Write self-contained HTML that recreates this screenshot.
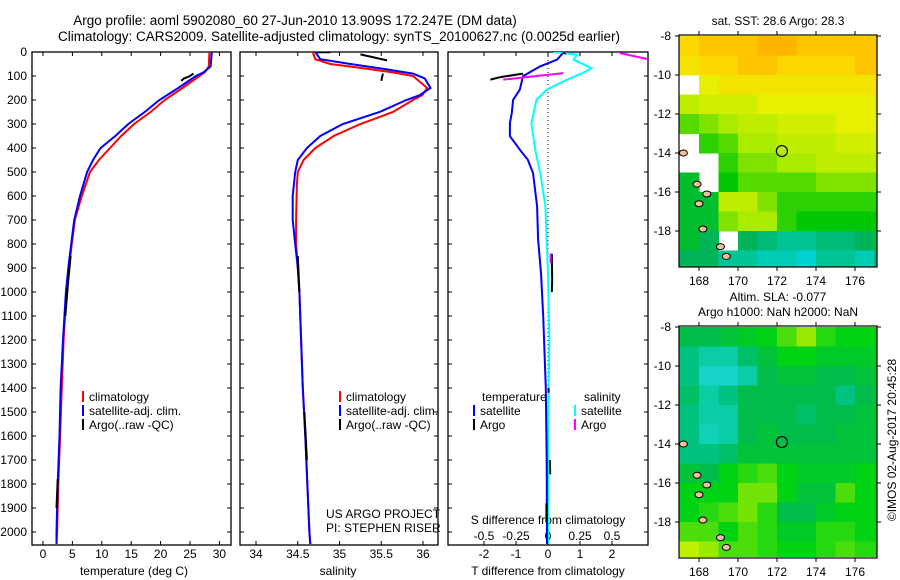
<!DOCTYPE html>
<html><head><meta charset="utf-8"><style>
html,body{margin:0;padding:0;background:#fff;}
svg{display:block;font-family:"Liberation Sans",sans-serif;}
text{fill:#000;}
</style></head><body>
<svg id="c" width="900" height="580" viewBox="0 0 900 580" xmlns="http://www.w3.org/2000/svg">
<text x="295" y="25" font-size="13.5" text-anchor="middle">Argo profile: aoml 5902080_60 27-Jun-2010 13.909S 172.247E (DM data)</text>
<text x="339" y="41" font-size="13.5" text-anchor="middle">Climatology: CARS2009. Satellite-adjusted climatology: synTS_20100627.nc (0.0025d earlier)</text>
<text x="778" y="25" font-size="12" text-anchor="middle">sat. SST: 28.6 Argo: 28.3</text>
<text x="778" y="301" font-size="12" text-anchor="middle">Altim. SLA: -0.077</text>
<text x="778" y="316" font-size="12" text-anchor="middle">Argo h1000: NaN h2000: NaN</text>
<text transform="translate(896,440) rotate(-90)" font-size="12" text-anchor="middle">©IMOS 02-Aug-2017 20:45:28</text>
<g id="g"></g>
</svg>
<script>
// ---------- data ----------
const depthTicks=[0,100,200,300,400,500,600,700,800,900,1000,1100,1200,1300,1400,1500,1600,1700,1800,1900,2000];
const tempTicks=[0,5,10,15,20,25,30];
const salTicks=[34,34.5,35,35.5,36];
const salTickLabels=["34","34.5","35","35.5","36"];
const tdTicks=[-2,-1,0,1,2];
const sdTicks=[-0.5,-0.25,0,0.25,0.5];
const sdTickLabels=["-0.5","-0.25","0","0.25","0.5"];
const lonTicks=[168,170,172,174,176];
const latTicks=[-8,-10,-12,-14,-16,-18];

const tClimDepth=[0,60,85,100,150,200,250,300,350,400,450,500,600,700,800,900,1000,1200,1400,1600,1800,2000,2050];
const tClim=[28.3,28.2,27.5,26.6,23.7,20.7,18.3,15.5,13.3,11.4,9.5,8,6.6,5.4,4.9,4.4,4.0,3.5,3.2,2.9,2.6,2.4,2.3];
const tSat=[28.7,28.5,27.3,26,23,19.8,17.3,14.5,12.3,9.8,8.5,7.5,6.3,5.3,4.8,4.3,3.9,3.4,3.0,2.8,2.5,2.3,2.3];
const tArgoDepth=[90,100,110,120,null,850,950,1100,null,1780,1900];
const tArgo=[25.6,25,24,23.5,null,4.7,4.3,3.8,null,2.5,2.3];

const sClimDepth=[0,30,50,70,85,100,150,180,200,250,300,350,400,450,500,550,700,800,900,1000,1400,1600,2000,2050];
const sClim=[34.68,34.71,34.89,35.33,35.64,35.88,36.05,35.99,35.88,35.64,35.25,34.93,34.71,34.57,34.5,34.49,34.48,34.48,34.5,34.52,34.56,34.59,34.64,34.65];
const sSatDepth=[0,30,50,70,90,110,150,180,200,250,300,350,400,450,500,600,700,800,900,1000,1400,1600,2000,2050];
const sSat=[34.71,34.77,35.13,35.52,35.88,36.02,36.09,35.96,35.8,35.48,35.04,34.77,34.61,34.5,34.47,34.44,34.44,34.47,34.5,34.52,34.56,34.59,34.64,34.65];
const sArgoDepth=[1,1,null,10,35,null,90,120,null,850,1000,null,1500,1700];
const sArgo=[34.73,34.89,null,35.25,35.57,null,35.52,35.5,null,34.5,34.52,null,34.58,34.61];

const tdDepth=[4,32,60,101,157,199,254,296,351,379,407,449,504,643,782,921,1100,1400,1700,2050];
const tdSat=[0.47,0.28,-0.25,-0.78,-0.88,-1.09,-1.13,-1.19,-1.19,-1.03,-0.88,-0.63,-0.47,-0.34,-0.31,-0.22,-0.15,-0.07,-0.04,-0.03];
const sdDepth=[0,11,32,67,88,115,157,199,296,407,504,643,782,921,1200,1600,2050];
const sdSat=[0.04,0.23,0.2,0.34,0.27,0.15,-0.01,-0.09,-0.13,-0.1,-0.06,-0.02,-0.01,0,0.01,0,0];
const tdArgoDepth=[2,8,null,90,105,115,null,840,950,1000,null,1400,1420,null,1700,1760,null,1880,1960];
const tdArgo=[0.47,0.55,null,-0.78,-1.5,-1.8,null,0.12,0.13,0.12,null,0.02,0.02,null,0.06,0.07,null,-0.05,-0.05];
const sdArgoDepth=[4,32,null,88,115,null,840,880];
const sdArgo=[0.56,0.8,null,0.12,-0.35,null,0.02,0.02];

const mapLats=[-8.5,-9.5,-10.5,-11.5,-12.5,-13.5,-14.5,-15.5,-16.5,-17.5,-18.5,-19.5];
const mapLons=[167.5,168.5,169.5,170.5,171.5,172.5,173.5,174.5,175.5,176.5,177.5];
const sstGrid=[
[29.3,29.4,29.4,29.4,29.5,29.5,29.4,29.4,29.4,29.4,29.4],
[29.2,29.3,29.3,29.4,29.4,29.3,29.3,29.3,29.3,29.4,29.4],
[null,29.1,29.2,29.2,29.2,29.2,29.2,29.2,29.2,29.2,29.3],
[28.9,29.0,29.0,29.0,29.1,29.1,29.1,29.1,29.1,29.1,29.2],
[28.6,28.7,28.8,28.9,28.9,29.0,29.0,29.0,29.1,29.1,29.1],
[null,28.5,28.6,28.8,28.8,28.9,28.9,28.9,29.0,29.0,29.0],
[null,null,28.5,28.7,28.7,28.8,28.8,28.9,28.9,28.9,28.9],
[28.3,null,28.4,28.6,28.6,28.6,28.6,28.7,28.7,28.7,28.7],
[28.3,28.3,28.9,28.9,28.7,28.5,28.5,28.5,28.5,28.5,28.5],
[28.3,28.3,28.7,28.8,28.8,28.5,28.4,28.4,28.4,28.4,28.4],
[28.3,28.2,null,28.2,28.1,28.0,28.0,28.1,28.1,28.2,28.3],
[28.2,28.2,28.0,28.0,27.9,27.9,27.8,28.0,28.0,27.9,28.2]];
const slaGrid=[
[0.3,0.3,0.35,0.4,0.45,0.55,0.65,0.5,0.45,0.45,0.4],
[0.2,0.15,0.15,0.25,0.35,0.45,0.45,0.4,0.4,0.4,0.4],
[0.2,0.1,0.1,0.15,0.3,0.35,0.35,0.3,0.3,0.35,0.4],
[0.25,0.15,0.2,0.3,0.3,0.3,0.3,0.3,0.2,0.3,0.35],
[0.2,0.15,0.15,0.3,0.3,0.3,0.25,0.3,0.3,0.35,0.4],
[0.2,0.12,0.15,0.3,0.35,0.3,0.3,0.3,0.35,0.35,0.35],
[0.2,0.2,0.25,0.35,0.35,0.35,0.35,0.35,0.35,0.35,0.35],
[0.35,0.3,0.45,0.5,0.55,0.45,0.4,0.4,0.4,0.45,0.4],
[0.45,0.45,0.45,0.6,0.6,0.45,0.35,0.35,0.55,0.45,0.4],
[0.45,0.5,0.55,0.6,0.5,0.3,0.3,0.4,0.45,0.45,0.4],
[0.55,0.55,0.45,0.55,0.5,0.4,0.4,0.5,0.5,0.45,0.45],
[0.7,0.65,0.55,0.55,0.5,0.45,0.45,0.5,0.55,0.5,0.5]];
const islandLons=[167.2,167.9,168.4,168.0,168.2,169.1,169.4,177.4];
const islandLats=[-14.0,-15.6,-16.1,-16.6,-17.9,-18.8,-19.3,-17.9];
const argoLon=172.25, argoLat=-13.9;

// ---------- helpers ----------
const NS="http://www.w3.org/2000/svg";
const root=document.getElementById('g');
function mk(tag,attrs,parent){const e=document.createElementNS(NS,tag);for(const k in attrs)e.setAttribute(k,attrs[k]);(parent||root).appendChild(e);return e;}
const yD=d=>52+d*0.24;
const xT=t=>43+t*5.88;
const xS=s=>256+(s-34)*83.5;
const xTD=v=>548+v*32;
const xSD=v=>548+v*128;

function linePath(xs,ys,fx){let d='',pen=false;for(let i=0;i<xs.length;i++){if(xs[i]===null||ys[i]===null){pen=false;continue;}d+=(pen?'L':'M')+fx(xs[i]).toFixed(1)+' '+yD(ys[i]).toFixed(1);pen=true;}return d;}
function series(vals,depths,fx,color,w,name,clip){const p=mk('path',{d:linePath(vals,depths,fx),fill:'none',stroke:color,'stroke-width':w,'clip-path':'url(#'+clip+')'});

}

const defs=mk('defs',{});
function clipRect(id,x,y,w,h){const c=mk('clipPath',{id:id},defs);mk('rect',{x:x,y:y,width:w,height:h},c);}
const panels=[[32,231],[240,438],[448,648]];
panels.forEach((p,i)=>clipRect('cp'+i,p[0],52,p[1]-p[0],493));
clipRect('cm1',679,35,198,232);clipRect('cm2',679,326,198,231);

panels.forEach((p,i)=>{
 const r=mk('rect',{x:p[0],y:52,width:p[1]-p[0],height:493,fill:'none',stroke:'#000','stroke-width':1.3});
 
 
 depthTicks.forEach(d=>{mk('line',{x1:p[0],x2:p[0]+4,y1:yD(d),y2:yD(d),stroke:'#000'});mk('line',{x1:p[1],x2:p[1]-4,y1:yD(d),y2:yD(d),stroke:'#000'});});
});
depthTicks.forEach(d=>{const t=mk('text',{x:27,y:yD(d)+4,'font-size':12,'text-anchor':'end'});t.textContent=d;

});

function xTicks(vals,labels,fx,p,ly,name,top){vals.forEach((v,i)=>{const x=fx(v);mk('line',{x1:x,x2:x,y1:545,y2:541,stroke:'#000'});if(top)mk('line',{x1:x,x2:x,y1:52,y2:56,stroke:'#000'});
 const t=mk('text',{x:x,y:ly,'font-size':12,'text-anchor':'middle'});t.textContent=labels[i];
 
 });}
xTicks(tempTicks,tempTicks.map(String),xT,panels[0],558,'temperature-tick-label',true);
xTicks(salTicks,salTickLabels,xS,panels[1],558,'salinity-tick-label',true);
xTicks(tdTicks,tdTicks.map(String),xTD,panels[2],558,'t-diff-tick-label',false);
sdTicks.forEach((v,i)=>{const x=xSD(v);mk('line',{x1:x,x2:x,y1:52,y2:56,stroke:'#000'});const t=mk('text',{x:x,y:540,'font-size':12,'text-anchor':'middle'});t.textContent=sdTickLabels[i];
 
 });
function label(x,y,s,name,anchor,size){const t=mk('text',{x:x,y:y,'font-size':size||12,'text-anchor':anchor||'middle'});t.textContent=s;
 
 return t;}
label(134,575,'temperature (deg C)','x-axis-title-temperature');
label(338,575,'salinity','x-axis-title-salinity');
label(548,575,'T difference from climatology','x-axis-title-t-diff');
label(548,524,'S difference from climatology','s-diff-axis-title');
label(326,518,'US ARGO PROJECT','project-label','start');
label(326,532,'PI: STEPHEN RISER','pi-label','start');
mk('line',{x1:548,x2:548,y1:52,y2:545,stroke:'#000','stroke-dasharray':'1,3'});

series(tClim,tClimDepth,xT,'#ff0000',2,'temp-climatology-line','cp0');
series(tSat,tClimDepth,xT,'#0000ff',2,'temp-satellite-line','cp0');
series(tArgo,tArgoDepth,xT,'#000',2,'temp-argo-line','cp0');
series(sClim,sClimDepth,xS,'#ff0000',2,'salinity-climatology-line','cp1');
series(sSat,sSatDepth,xS,'#0000ff',2,'salinity-satellite-line','cp1');
series(sArgo,sArgoDepth,xS,'#000',2,'salinity-argo-line','cp1');
series(sdSat,sdDepth,xSD,'#00ffff',2,'s-diff-satellite-line','cp2');
series(tdSat,tdDepth,xTD,'#0000ff',2,'t-diff-satellite-line','cp2');
series(tdArgo,tdArgoDepth,xTD,'#000',2,'t-diff-argo-line','cp2');
series(sdArgo,sdArgoDepth,xSD,'#ff00ff',2,'s-diff-argo-line','cp2');

function legend(x,y,color,txt,name){mk('line',{x1:x,x2:x,y1:y-10,y2:y+1,stroke:color,'stroke-width':2});const t=label(x+6,y,txt,name,'start');}
[[83,0],[340,1]].forEach(([x,i])=>{
 legend(x,401,'#ff0000','climatology','legend-climatology-'+(i+1));
 legend(x,415,'#0000ff','satellite-adj. clim.','legend-satellite-'+(i+1));
 legend(x,429,'#000','Argo(..raw -QC)','legend-argo-'+(i+1));
});
label(482,401,'temperature','legend-temperature-header','start');
label(584,401,'salinity','legend-salinity-header','start');
legend(474,415,'#0000ff','satellite','legend-t-satellite');
legend(474,429,'#000','Argo','legend-t-argo');
legend(575,415,'#00ffff','satellite','legend-s-satellite');
legend(575,429,'#ff00ff','Argo','legend-s-argo');

// ---------- maps ----------
const lx=lon=>699+(lon-168)*19.5;
function lerpC(stops,v){if(v<=stops[0][0])return 'rgb('+stops[0][1].join(',')+')';for(let i=1;i<stops.length;i++){if(v<=stops[i][0]){const a=stops[i-1],b=stops[i],f=(v-a[0])/(b[0]-a[0]);return 'rgb('+a[1].map((c,k)=>Math.round(c+(b[1][k]-c)*f)).join(',')+')';}}return 'rgb('+stops[stops.length-1][1].join(',')+')';}
const sstStops=[[27.8,[0,210,210]],[28.2,[0,180,90]],[28.4,[0,200,0]],[28.8,[170,235,0]],[29.1,[230,240,0]],[29.3,[255,215,0]],[29.5,[255,180,0]]];
const slaStops=[[0.1,[20,212,200]],[0.2,[0,195,130]],[0.3,[0,188,75]],[0.45,[0,210,20]],[0.7,[190,240,0]]];
function drawMap(top,grid,stops,clip,name){
 const ly=lat=>top+1+(-8-lat)*19.5;
 const g=mk('g',{'clip-path':'url(#'+clip+')'});
 
 
 mk('rect',{x:679,y:top,width:198,height:232,fill:'#fff'},g);
 mapLats.forEach((lat,r)=>mapLons.forEach((lon,c)=>{const v=grid[r][c];if(v===null)return;
  const cell=mk('rect',{x:lx(lon-0.5),y:ly(lat+0.5),width:20,height:20,fill:lerpC(stops,v)},g);
  
  }));
 islandLons.forEach((lon,i)=>{const e=mk('ellipse',{cx:lx(lon),cy:ly(islandLats[i]),rx:4,ry:3,fill:'#f5c09a',stroke:'#000','stroke-width':1},g);
  
  });
 const c=mk('circle',{cx:lx(argoLon),cy:ly(argoLat),r:5.5,fill:'none',stroke:'#000','stroke-width':1.2});
 
 
 const f=mk('rect',{x:679,y:top,width:198,height:232,fill:'none',stroke:'#000','stroke-width':1.2});
 
 
 latTicks.forEach(lat=>{const y=ly(lat);mk('line',{x1:679,x2:675,y1:y,y2:y,stroke:'#000'});mk('line',{x1:877,x2:881,y1:y,y2:y,stroke:'#000'});
  const t=mk('text',{x:671,y:y+4,'font-size':12,'text-anchor':'end'});t.textContent=lat;
  
  });
 lonTicks.forEach(lon=>{const x=lx(lon);mk('line',{x1:x,x2:x,y1:top,y2:top-4,stroke:'#000'});mk('line',{x1:x,x2:x,y1:top+232,y2:top+236,stroke:'#000'});
  const t=mk('text',{x:x,y:top+250,'font-size':12,'text-anchor':'middle'});t.textContent=lon;
  
  });
}
drawMap(35,sstGrid,sstStops,'cm1','sst-map');
drawMap(326,slaGrid,slaStops,'cm2','sla-map');
</script>
</body></html>
